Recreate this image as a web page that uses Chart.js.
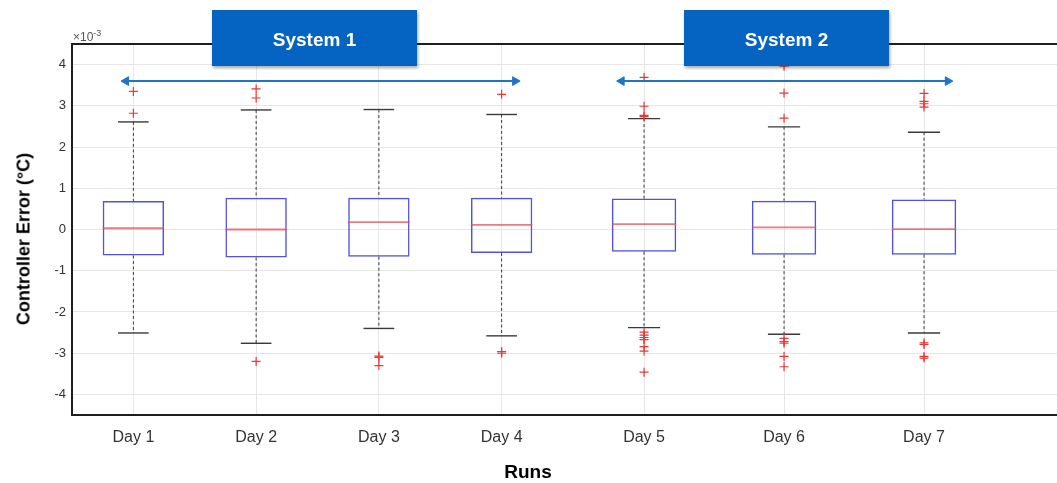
<!DOCTYPE html>
<html>
<head>
<meta charset="utf-8">
<script src="https://cdn.jsdelivr.net/npm/chart.js@4.4.1/dist/chart.umd.min.js"></script>
<style>
  html, body { margin: 0; padding: 0; background: #fff; }
  #wrap { position: relative; width: 1057px; height: 483px; overflow: hidden;
          font-family: "Liberation Sans", Arial, Helvetica, sans-serif; }
  canvas { position: absolute; top: 0; }
  #c1 { left: 0; }
  #c2 { left: 563px; }
  .sys { position: absolute; top: 10px; width: 205px; height: 56px; background: #0563c1;
         color: #fff; font-weight: bold; font-size: 19px; display: flex; align-items: center;
         justify-content: center; padding-top: 3px; box-sizing: border-box;
         box-shadow: 1px 2px 3px rgba(0,0,0,0.35); }
  .lbl { position: absolute; transform: translate(-50%, -50%); white-space: nowrap; color: #000; font-weight: bold; }
  #exp { position: absolute; left: 73px; top: 28px; font-size: 12px; color: #555; }
  #exp sup { font-size: 9px; }
</style>
</head>
<body>
<div id="wrap">
  <canvas id="c1" width="563" height="483"></canvas>
  <canvas id="c2" width="494" height="483"></canvas>
  <div id="exp">×10<sup>-3</sup></div>
  <div class="sys" style="left:212px">System 1</div>
  <div class="sys" style="left:684px">System 2</div>
  <div class="lbl" style="left:24px; top:239px; font-size:18px; transform: translate(-50%,-50%) rotate(-90deg)">Controller Error (°C)</div>
  <div class="lbl" style="left:528px; top:472px; font-size:19px">Runs</div>
</div>
<script>
"use strict";

// ── data (controller error, ×10^-3 °C) ─────────────────────────────────────────
const sys1Days    = ["Day 1", "Day 2", "Day 3", "Day 4"];
const sys1Q1      = [-0.63, -0.68, -0.66, -0.57];
const sys1Median  = [0.03, 0.00, 0.18, 0.11];
const sys1Q3      = [0.69, 0.77, 0.77, 0.77];
const sys1Low     = [-2.51, -2.76, -2.40, -2.58];
const sys1High    = [2.61, 2.90, 2.91, 2.79];
const sys1Outliers = [
  [3.35, 2.82],
  [3.41, 3.19, -3.20],
  [-3.07, -3.10, -3.30],
  [3.28, -2.96, -3.00],
];

const sys2Days    = ["Day 5", "Day 6", "Day 7"];
const sys2Q1      = [-0.54, -0.61, -0.61];
const sys2Median  = [0.13, 0.05, 0.01];
const sys2Q3      = [0.75, 0.70, 0.73];
const sys2Low     = [-2.38, -2.54, -2.51];
const sys2High    = [2.69, 2.49, 2.36];
const sys2Outliers = [
  [3.69, 2.99, 2.77, 2.74, -2.49, -2.56, -2.62, -2.67, -2.84, -2.95, -3.46],
  [3.96, 3.31, 2.70, -2.64, -2.72, -2.76, -3.08, -3.33],
  [3.30, 3.11, 3.05, 2.97, -2.75, -2.79, -3.08, -3.12],
];

const yTicks = [-4, -3, -2, -1, 0, 1, 2, 3, 4];

// double arrows spanning each system's runs
const arrowLevel = 3.6;
const sys1Arrow = [0.94, 4.11];
const sys2Arrow = [4.84, 7.17];

// ── styling ────────────────────────────────────────────────────────────────────
const BOX_COLOR = "rgba(50,50,225,0.85)";
const MED_COLOR = "rgba(228,80,80,0.75)";
const WHISK_COLOR = "#3a3a3a";
const OUT_COLOR = "#f03535";
const ARROW_COLOR = "#1f74c6";
const GRID_COLOR = "#e6e6e6";
const AXIS_COLOR = "#1e1e1e";
const FONT = "'Liberation Sans', Arial, Helvetica, sans-serif";

const unitPx = c => c.chart.scales.x.getPixelForValue(1) - c.chart.scales.x.getPixelForValue(0);

function boxDatasets(x0, q1, med, q3, lo, hi, outs, arrowX, boxFrac) {
  const xs = q1.map((_, i) => x0 + i);
  const whisk = [];
  xs.forEach((x, i) => {
    whisk.push({ x, y: hi[i] }, { x, y: q3[i] }, { x, y: null },
               { x, y: q1[i] }, { x, y: lo[i] }, { x, y: null });
  });
  const caps = xs.flatMap((x, i) => [{ x, y: hi[i] }, { x, y: lo[i] }]);
  const outliers = xs.flatMap((x, i) => outs[i].map(y => ({ x, y })));

  return [
    {
      type: "line", data: arrowX.map(x => ({ x, y: arrowLevel })),
      borderColor: ARROW_COLOR, borderWidth: 2,
      pointStyle: "triangle", pointRadius: 5, pointRotation: [-90, 90],
      pointBackgroundColor: ARROW_COLOR, pointBorderColor: ARROW_COLOR, pointBorderWidth: 1,
    },
    {
      type: "scatter", data: outliers,
      pointStyle: "cross", pointRadius: 4.5, pointBorderWidth: 1.2,
      pointBorderColor: OUT_COLOR,
    },
    {
      type: "scatter", data: xs.map((x, i) => ({ x, y: med[i] })),
      pointStyle: "line", pointRadius: c => unitPx(c) * boxFrac / 2,
      pointBorderColor: MED_COLOR, pointBorderWidth: 1.8,
    },
    {
      type: "scatter", data: caps,
      pointStyle: "line", pointRadius: c => unitPx(c) * boxFrac / 4,
      pointBorderColor: WHISK_COLOR, pointBorderWidth: 1.4,
    },
    {
      type: "line", data: whisk, spanGaps: false,
      borderColor: WHISK_COLOR, borderWidth: 1, borderDash: [3, 2.5], pointRadius: 0,
    },
    {
      type: "bar", data: xs.map((x, i) => ({ x, y: [q1[i], q3[i]] })),
      backgroundColor: "rgba(0,0,0,0)", borderColor: BOX_COLOR, borderWidth: 1.5,
      borderSkipped: false, barPercentage: boxFrac, categoryPercentage: 1,
    },
  ];
}

// top frame line
const frame = {
  id: "frame",
  afterDraw(chart) {
    const { ctx, chartArea: a } = chart;
    ctx.save();
    ctx.strokeStyle = AXIS_COLOR;
    ctx.lineWidth = 2;
    ctx.beginPath();
    ctx.moveTo(a.left, a.top);
    ctx.lineTo(a.right, a.top);
    ctx.stroke();
    ctx.restore();
  },
};

function makeChart(id, days, x0, xMin, xMax, datasets, showY) {
  return new Chart(document.getElementById(id), {
    type: "bar",
    data: { datasets },
    plugins: [frame],
    options: {
      responsive: false,
      animation: false,
      events: [],
      layout: { padding: { top: 44, left: 0, right: 0, bottom: 0 }, autoPadding: false },
      plugins: { legend: { display: false }, tooltip: { enabled: false } },
      scales: {
        x: {
          type: "linear", min: xMin, max: xMax, offset: false,
          afterBuildTicks: s => { s.ticks = days.map((_, i) => ({ value: x0 + i })); },
          afterFit: s => { s.height = 68; },
          grid: { color: GRID_COLOR, drawTicks: false, offset: false },
          border: { color: AXIS_COLOR, width: 2 },
          ticks: {
            color: "#333", font: { family: FONT, size: 16 }, padding: 13,
            maxRotation: 0, autoSkip: false,
            callback: v => days[v - x0],
          },
        },
        y: {
          type: "linear", min: -4.5, max: 4.5,
          afterBuildTicks: s => { s.ticks = yTicks.map(v => ({ value: v })); },
          afterFit: s => { s.width = showY ? 72 : 0; },
          grid: { color: GRID_COLOR, drawTicks: false },
          border: { display: showY, color: AXIS_COLOR, width: 2 },
          ticks: {
            display: showY, color: "#333", font: { family: FONT, size: 13 }, padding: 6,
            callback: v => String(v),
          },
        },
      },
    },
  });
}

makeChart("c1", sys1Days, 1, 0.5, 4.5,
  boxDatasets(1, sys1Q1, sys1Median, sys1Q3, sys1Low, sys1High, sys1Outliers, sys1Arrow, 0.5), true);
makeChart("c2", sys2Days, 5, 4.421, 7.95,
  boxDatasets(5, sys2Q1, sys2Median, sys2Q3, sys2Low, sys2High, sys2Outliers, sys2Arrow, 0.46), false);
</script>
</body>
</html>
